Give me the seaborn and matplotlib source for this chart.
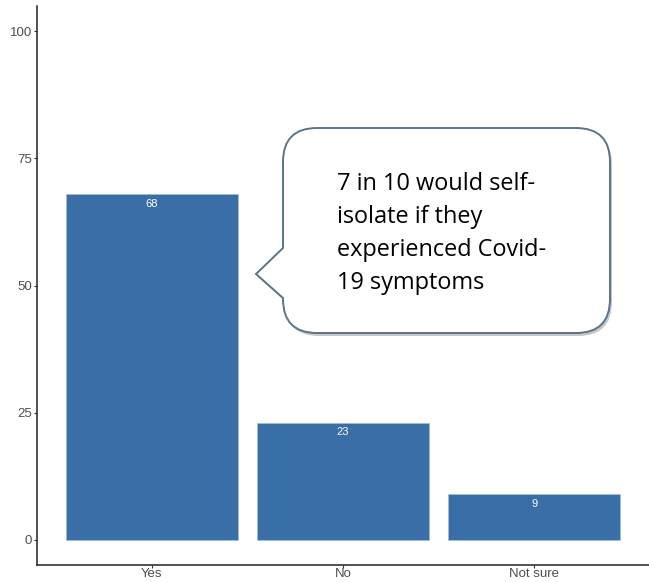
import matplotlib
matplotlib.use("Agg")
import matplotlib.pyplot as plt
import seaborn as sns
import pandas as pd
from matplotlib.path import Path
from matplotlib.patches import PathPatch
from matplotlib.transforms import Affine2D

categories = ["Yes", "No", "Not sure"]
values = [68, 23, 9]
yticks = [0, 25, 50, 75, 100]
callout_text = "7 in 10 would self-\nisolate if they\nexperienced Covid-\n19 symptoms"

df = pd.DataFrame({"answer": categories, "pct": values})

sns.set_theme(style="white")
plt.rcParams["font.family"] = ["Liberation Sans", "DejaVu Sans"]

W, H = 649, 582
fig = plt.figure(figsize=(W / 100, H / 100), dpi=100)
ax = fig.add_axes([37 / W, 17 / H, 1 - 37 / W, (565 - 6) / H])

sns.barplot(data=df, x="answer", y="pct", color="#3A6EA6", saturation=1,
            width=0.9, edgecolor="#9fbde0", linewidth=0.6, ax=ax)

for i, v in enumerate(values):
    ax.annotate(str(v), (i, v), xytext=(0, -7), textcoords="offset points",
                ha="center", va="center", color="white", fontsize=8)

ax.set_xlim(-0.6, 2.6)
ax.set_ylim(-5, 105)
ax.set_yticks(yticks)
ax.set_xlabel("")
ax.set_ylabel("")
for s in ["top", "right"]:
    ax.spines[s].set_visible(False)
for s in ["left", "bottom"]:
    ax.spines[s].set_color("#222222")
    ax.spines[s].set_linewidth(1.1)
ax.tick_params(axis="both", which="both", length=2.2, width=0.8, color="#333333",
               labelsize=9.5, labelcolor="#4D4D4D", left=True, bottom=True, pad=1.5)
ax.tick_params(axis="x", pad=0.3)

# callout in pixel coordinates (y down)
px = Affine2D().scale(1 / W, -1 / H).translate(0, 1) + fig.transFigure
L, R, T, B, r = 283, 610, 128, 333, 34
verts = [
    (L + r, T), (R - r, T), (R, T), (R, T + r), (R, B - r), (R, B), (R - r, B),
    (L + r, B), (L, B), (L, B - r), (L, 298), (256, 274), (L, 248), (L, T + r),
    (L, T), (L + r, T), (L + r, T)
]
codes = [Path.MOVETO, Path.LINETO, Path.CURVE3, Path.CURVE3, Path.LINETO, Path.CURVE3,
         Path.CURVE3, Path.LINETO, Path.CURVE3, Path.CURVE3, Path.LINETO, Path.LINETO,
         Path.LINETO, Path.LINETO, Path.CURVE3, Path.CURVE3, Path.CLOSEPOLY]
path = Path(verts, codes)
shadow_tr = Affine2D().translate(2, 3) + px
fig.patches.append(PathPatch(path, transform=shadow_tr, facecolor="#9a9a9a",
                             edgecolor="none", alpha=0.55))
fig.patches.append(PathPatch(path, transform=px, facecolor="white",
                             edgecolor="#5B7489", linewidth=1.4))
fig.text(337, 172, callout_text, transform=px, ha="left", va="top",
         fontsize=16.9, family=["Open Sans", "DejaVu Sans"], color="black",
         linespacing=1.5)

fig.savefig("out.png", dpi=100)
